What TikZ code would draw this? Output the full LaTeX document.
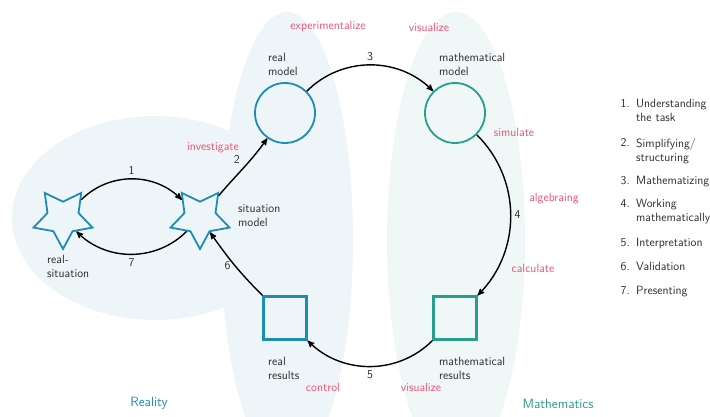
\documentclass[tikz,border=0pt]{standalone}
\usepackage{tikz}
\usetikzlibrary{arrows,shapes.geometric,positioning}

\definecolor{realblue}{RGB}{30,140,180}
\definecolor{mathgreen}{RGB}{40,158,140}
\definecolor{actpink}{RGB}{238,82,118}
\definecolor{bgblue}{RGB}{238,245,248}
\definecolor{bggreen}{RGB}{240,247,247}
\definecolor{txtgray}{RGB}{45,45,45}

\begin{document}
\begin{tikzpicture}[x=1pt,y=1pt,auto,
  font=\sffamily\fontsize{12}{14}\selectfont,text=txtgray,
  situ/.style={star,star points=5,star point ratio=1.9,shape border rotate=180,
    draw=realblue,line width=1.8pt,minimum size=62pt,inner sep=0pt},
  model/.style={circle,line width=1.8pt,minimum size=60pt,inner sep=0pt},
  resbox/.style={shape=rectangle,line width=2.2pt,minimum size=43pt,inner sep=0pt},
  tag/.style={align=left,inner sep=0pt},
  act/.style={text=actpink},
  world/.style={font=\sffamily\fontsize{13.5}{16}\selectfont}]

\clip (0,0) rectangle (710,416);

% backgrounds
\fill[bgblue] (155,198) ellipse [x radius=143,y radius=102];
\fill[bgblue] (287,176) ellipse [x radius=66,y radius=228];
\fill[bggreen] (456,176) ellipse [x radius=69,y radius=228];

% states
\node[situ] (rs) at (63,198) {};
\node[situ] (sm) at (200,198) {};
\node[model,draw=realblue] (rm) at (285,303) {};
\node[model,draw=mathgreen] (mm) at (455,303) {};
\node[resbox,draw=realblue] (rr) at (285,98) {};
\node[resbox,draw=mathgreen] (mr) at (455,98) {};

% names
\node[tag,anchor=north west] at (47,161) {real-\\situation};
\node[tag,anchor=north west] at (238,212) {situation\\model};
\node[tag,anchor=north west] at (268,363) {real\\model};
\node[tag,anchor=north west] at (439,363) {mathematical\\model};
\node[tag,anchor=north west] at (268,59) {real\\results};
\node[tag,anchor=north west] at (439,59) {mathematical\\results};

% activities
\node[act] at (213,268) {investigate};
\node[act] at (328,389) {experimentalize};
\node[act] at (429,389) {visualize};
\node[act] at (514,284) {simulate};
\node[act] at (554,217) {algebraing};
\node[act] at (533,148) {calculate};
\node[act] at (323,29) {control};
\node[act] at (421,29) {visualize};

\node[world,text=realblue] at (149,13) {Reality};
\node[world,text=mathgreen] at (558,12) {Mathematics};

% steps
\foreach \n/\y/\t in {1/317/{Understanding\\the task},2/278/{Simplifying/\\structuring},
    3/240/Mathematizing,4/217/{Working\\mathematically},5/178/Interpretation,
    6/154/Validation,7/130/Presenting}
{
  \node[tag,anchor=north east] (n\n) at (630,\y) {\n.};
  \node[tag,anchor=north west] (t\n) at (636,\y) {\t};
}

\path[->,>=stealth',line width=1.4pt]
  (rs) edge [bend left=45] node {1} (sm)
  (sm) edge [bend left=45] node {7} (rs)
       edge [out=50,in=235] node {2} (rm)
  (rm) edge [bend left=45] node {3} (mm)
  (mm) edge [bend left=45] node {4} (mr)
  (mr) edge [bend left=45] node {5} (rr)
  (rr) edge [out=135,in=-55] node[left] {6} (sm);
\end{tikzpicture}
\end{document}
